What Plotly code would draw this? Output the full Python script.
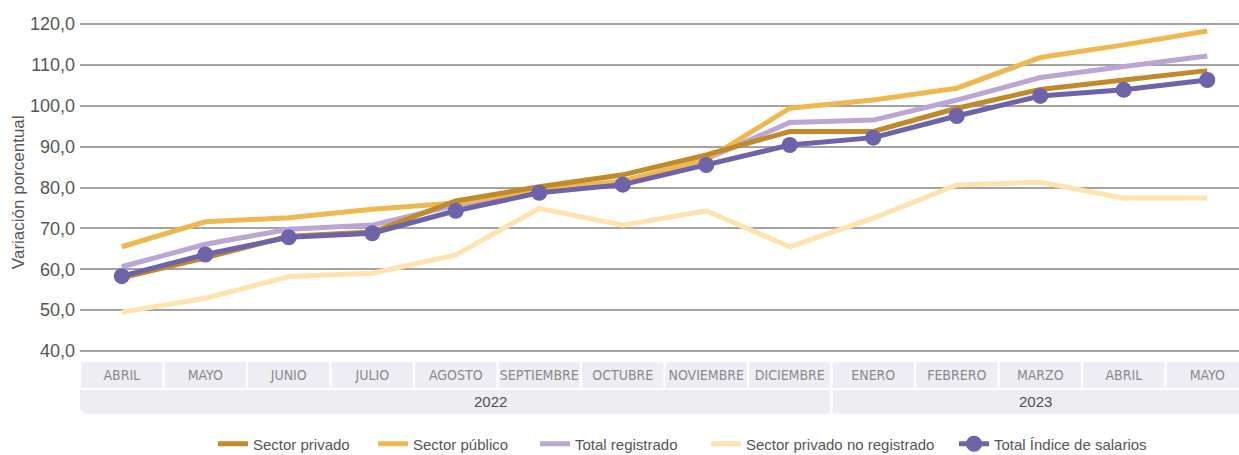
import plotly.graph_objects as go

months = ["ABRIL", "MAYO", "JUNIO", "JULIO", "AGOSTO", "SEPTIEMBRE", "OCTUBRE",
          "NOVIEMBRE", "DICIEMBRE", "ENERO", "FEBRERO", "MARZO", "ABRIL", "MAYO"]
years = ["2022", "2023"]
year_spans = [(0, 8), (9, 13)]

sector_privado = [57.9, 62.8, 68.1, 69.1, 76.7, 80.2, 83.1, 88.0, 93.7, 93.7, 99.4, 104.0, 106.3, 108.6]
sector_publico = [65.5, 71.6, 72.6, 74.7, 76.2, 79.4, 81.6, 86.8, 99.4, 101.4, 104.3, 111.8, 114.9, 118.3]
total_registrado = [60.6, 66.1, 69.8, 70.8, 75.7, 79.1, 81.4, 87.0, 95.9, 96.5, 101.4, 106.9, 109.6, 112.2]
privado_no_registrado = [49.5, 52.9, 58.2, 59.0, 63.5, 74.9, 70.8, 74.3, 65.5, 72.5, 80.6, 81.3, 77.4, 77.4]
total_indice = [58.3, 63.6, 67.8, 68.8, 74.3, 78.7, 80.7, 85.5, 90.4, 92.2, 97.5, 102.4, 103.9, 106.3]

x = list(range(len(months)))

W, H = 1239, 455
LEGEND_FONT = dict(family="Liberation Sans, Arial", size=15, color="#555555")
# left edge (px) of each legend entry, in the order of the reference legend
legend_left_px = {"legend": 213, "legend2": 373, "legend3": 535, "legend4": 706, "legend5": 954}

fig = go.Figure()

def add_line(name, y, color, legend_id, width=5, markers=False):
    fig.add_trace(go.Scatter(
        x=x, y=y, name=name, mode="lines+markers" if markers else "lines",
        line=dict(color=color, width=width),
        marker=dict(size=16, color=color) if markers else None,
        legend=legend_id, hoverinfo="y+name"))

add_line("Sector privado no registrado", privado_no_registrado, "#FFE3AE", "legend4")
add_line("Total registrado", total_registrado, "#BBA5D2", "legend3")
add_line("Sector público", sector_publico, "#EDB94F", "legend2")
add_line("Sector privado", sector_privado, "#C08A2A", "legend")
add_line("Total Índice de salarios", total_indice, "#6E62A9", "legend5", width=5, markers=True)

shapes = []
cell_fill = "#EFEDF4"
gap = 0.013
for i in x:
    shapes.append(dict(type="rect", xref="x", yref="paper",
                       x0=i - 0.5 + gap, x1=i + 0.5 - gap,
                       y0=-0.1057, y1=-0.0272, fillcolor=cell_fill,
                       line=dict(width=0), layer="below"))
annotations = []
for (a, b), yr in zip(year_spans, years):
    x0 = a - 0.5 + (0 if a == 0 else gap)
    x1 = b + 0.5 - gap
    yt, yb = -0.1118, -0.1843
    if a == 0:
        rx, ry = 0.1, 0.025
        path = (f"M {x0},{yt} L {x1},{yt} L {x1},{yb} L {x0 + rx},{yb} "
                f"Q {x0},{yb} {x0},{yb + ry} Z")
        shapes.append(dict(type="path", xref="x", yref="paper", path=path,
                           fillcolor=cell_fill, line=dict(width=0), layer="below"))
    else:
        shapes.append(dict(type="rect", xref="x", yref="paper", x0=x0, x1=x1 + 1,
                           y0=yb, y1=yt, fillcolor=cell_fill,
                           line=dict(width=0), layer="below"))

annotations.append(dict(text="2022", x=4.42, xref="x", y=-0.148, yref="paper",
                        showarrow=False, xanchor="center", yanchor="middle",
                        font=dict(family="Liberation Sans, Arial", size=15, color="#505050")))
annotations.append(dict(text="2023", x=10.94, xref="x", y=-0.148, yref="paper",
                        showarrow=False, xanchor="center", yanchor="middle",
                        font=dict(family="Liberation Sans, Arial", size=15, color="#505050")))
annotations.append(dict(text="Variación porcentual", textangle=-90, x=-0.0535, xref="paper",
                        y=0.486, yref="paper", showarrow=False, xanchor="center", yanchor="middle",
                        font=dict(family="Liberation Sans, Arial", size=17, color="#555555")))

legends = {}
for lid, px in legend_left_px.items():
    legends[lid] = dict(orientation="h", xref="container", yref="container",
                        x=px / W, xanchor="left", y=1 - 444 / H, yanchor="middle",
                        font=LEGEND_FONT, itemwidth=30, bgcolor="rgba(0,0,0,0)",
                        borderwidth=0)

fig.update_layout(
    width=W, height=H,
    margin=dict(l=80, r=0, t=22, b=102, autoexpand=False),
    paper_bgcolor="white", plot_bgcolor="white",
    separators=", ",
    showlegend=True,
    shapes=shapes, annotations=annotations,
    xaxis=dict(range=[-0.5, 13.38], tickvals=x, ticktext=months, showgrid=False,
               zeroline=False, showline=False, ticks="", ticklabelstandoff=12,
               tickfont=dict(family="Liberation Sans Narrow, DejaVu Sans Condensed, Arial",
                             size=14, color="#8a8a8a")),
    yaxis=dict(range=[39.5, 120.5], tickvals=[40, 50, 60, 70, 80, 90, 100, 110, 120],
               tickformat=".1f", showgrid=True, gridcolor="#A3A3A3", gridwidth=1.5,
               zeroline=False, showline=False, ticks="", ticklabelstandoff=4,
               tickfont=dict(family="Liberation Sans, Arial", size=18, color="#555555")),
    **legends,
)

fig.write_html("out.html", config={"displayModeBar": False},
               post_script="document.body.style.margin='0';document.body.style.overflow='hidden';")
